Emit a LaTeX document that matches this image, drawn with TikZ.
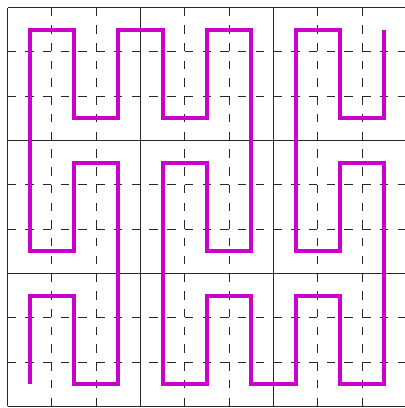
\documentclass[tikz,border=0pt]{standalone}
\usepackage{tikz}
\definecolor{curvecol}{RGB}{204,0,204}
\definecolor{gridcol}{RGB}{40,40,40}
\tikzset{
  solidgrid/.style={draw=gridcol, line width=0.9pt},
  dashgrid/.style={draw=gridcol, line width=1.1pt, dash pattern=on 8.5pt off 9.23pt},
  peano/.style={draw=curvecol, line width=4pt, line join=miter, line cap=butt}
}
\begin{document}
\begin{tikzpicture}
\useasboundingbox (0pt,0pt) rectangle (405pt,408pt);
\begin{scope}[shift={(7.5pt,1.5pt)}, x=44.333pt, y=44.333pt]
  % dashed grid lines
  \foreach \i in {1,2,4,5,7,8} {
    \draw[dashgrid] (\i,9) -- (\i,0);
    \draw[dashgrid] (0,9-\i) -- (9,9-\i);
  }
  % solid grid lines
  \foreach \i in {0,3,6,9} {
    \draw[solidgrid] (\i,0) -- (\i,9);
    \draw[solidgrid] (0,\i) -- (9,\i);
  }
  % Peano curve
  \begin{scope}[shift={(0.5,0.5)}]
  \draw[peano] (0,0) -- (0,2) -- (1,2) -- (1,0) -- (2,0) -- (2,5) -- (1,5) -- (1,3) -- (0,3) -- (0,8)
    -- (1,8) -- (1,6) -- (2,6) -- (2,8) -- (3,8) -- (3,6) -- (4,6) -- (4,8) -- (5,8) -- (5,3)
    -- (4,3) -- (4,5) -- (3,5) -- (3,0) -- (4,0) -- (4,2) -- (5,2) -- (5,0) -- (6,0) -- (6,2)
    -- (7,2) -- (7,0) -- (8,0) -- (8,5) -- (7,5) -- (7,3) -- (6,3) -- (6,8) -- (7,8) -- (7,6)
    -- (8,6) -- (8,8);
  \end{scope}
\end{scope}
\end{tikzpicture}
\end{document}
